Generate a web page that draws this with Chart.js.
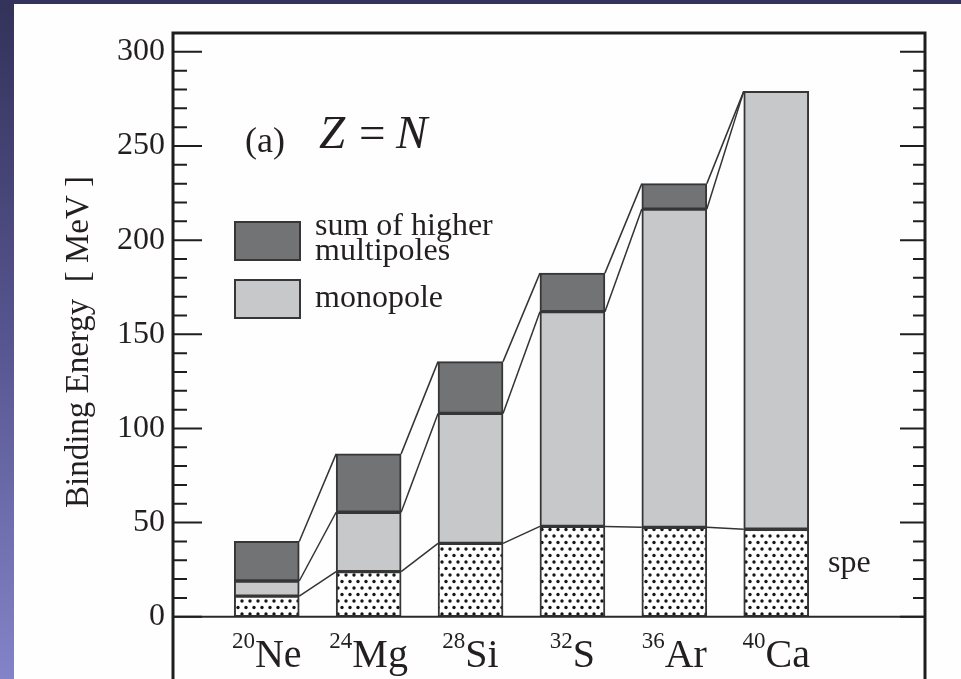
<!DOCTYPE html>
<html>
<head>
<meta charset="utf-8">
<script src="https://cdn.jsdelivr.net/npm/chart.js@4.4.1/dist/chart.umd.min.js"></script>
<style>
html, body { margin: 0; padding: 0; width: 961px; height: 679px; overflow: hidden; }
body { position: relative; background: linear-gradient(to bottom, #33325a 0%, #575590 50%, #8383c8 100%); }
#topband { position: absolute; left: 0; top: 0; width: 961px; height: 4px; background: #34335b; }
#panel { position: absolute; left: 14px; top: 4px; width: 947px; height: 675px; background: #fefefe; }
#wrap { position: absolute; left: 0; top: 0; width: 961px; height: 700px; }
</style>
</head>
<body>
<div id="topband"></div>
<div id="panel"></div>
<div id="wrap"><canvas id="c" width="961" height="700"></canvas></div>
<script>
// valeurs (MeV)
const nuclei = ['Ne', 'Mg', 'Si', 'S', 'Ar', 'Ca'];
const massNumbers = ['20', '24', '28', '32', '36', '40'];
const speEnergy = [11, 24, 39, 48, 47.5, 46.5];
const monopoleEnergy = [8, 31.5, 69, 114, 169, 232.5];
const higherEnergy = [21, 31, 27.5, 20.5, 13.5, 0];
const yTickValues = [0, 50, 100, 150, 200, 250, 300];
const legendLines = [['sum of higher', 'multipoles'], ['monopole']];

const serif = '"Liberation Serif", "Times New Roman", serif';
const ink = '#231f20';
const edge = '#363636';

const canvas = document.getElementById('c');
const ctx = canvas.getContext('2d');

// motif pointillé pour la partie spe
function dotPattern() {
    const tile = document.createElement('canvas');
    tile.width = 8;
    tile.height = 13;
    const g = tile.getContext('2d');
    g.fillStyle = '#ffffff';
    g.fillRect(0, 0, 8, 13);
    g.fillStyle = '#161616';
    [[2, 3], [6, 9.5]].forEach(([x, y]) => {
        g.beginPath();
        g.arc(x, y, 1.7, 0, Math.PI * 2);
        g.fill();
    });
    return ctx.createPattern(tile, 'repeat');
}

const toPoints = arr => arr.map((v, i) => ({ x: i, y: v }));

const barStyle = {
    borderColor: edge,
    borderWidth: 2,
    borderSkipped: false,
    barThickness: 65
};

const decor = {
    id: 'decor',
    afterDatasetsDraw(chart) {
        const { ctx, chartArea: a, scales: { y } } = chart;
        ctx.save();

        // lignes reliant les barres
        ctx.strokeStyle = '#333';
        ctx.lineWidth = 1.5;
        chart.data.datasets.forEach((ds, k) => {
            const bars = chart.getDatasetMeta(k).data;
            for (let i = 0; i < bars.length - 1; i++) {
                const p = bars[i], q = bars[i + 1];
                ctx.beginPath();
                ctx.moveTo(p.x + p.width / 2, p.y);
                ctx.lineTo(q.x - q.width / 2, q.y);
                ctx.stroke();
            }
        });

        // ligne du zéro
        const y0 = y.getPixelForValue(0);
        ctx.strokeStyle = '#2a2a2a';
        ctx.lineWidth = 2;
        ctx.beginPath();
        ctx.moveTo(a.left, y0);
        ctx.lineTo(a.right, y0);
        ctx.stroke();

        // cadre
        ctx.strokeStyle = '#1e1e1e';
        ctx.lineWidth = 3;
        ctx.beginPath();
        ctx.moveTo(a.left, chart.height);
        ctx.lineTo(a.left, a.top);
        ctx.lineTo(a.right, a.top);
        ctx.lineTo(a.right, chart.height);
        ctx.stroke();

        // graduations intérieures
        ctx.lineWidth = 2;
        const last = yTickValues[yTickValues.length - 1];
        for (let v = 0; v <= last; v += 10) {
            const py = y.getPixelForValue(v);
            const major = v % 50 === 0;
            ctx.beginPath();
            ctx.moveTo(a.left, py);
            ctx.lineTo(a.left + (major ? 29 : 14), py);
            ctx.moveTo(a.right, py);
            ctx.lineTo(a.right - (major ? 25 : 12), py);
            ctx.stroke();
        }
        ctx.restore();
    },
    afterDraw(chart) {
        const { ctx, chartArea: a, scales: { x } } = chart;
        ctx.save();
        ctx.fillStyle = ink;
        ctx.textBaseline = 'alphabetic';

        // étiquettes des noyaux
        nuclei.forEach((n, i) => {
            ctx.font = '23px ' + serif;
            const wSup = ctx.measureText(massNumbers[i]).width;
            ctx.font = '40px ' + serif;
            const wMain = ctx.measureText(n).width;
            const left = x.getPixelForValue(i) - (wSup + wMain) / 2;
            ctx.font = '23px ' + serif;
            ctx.textAlign = 'left';
            ctx.fillText(massNumbers[i], left, 648);
            ctx.font = '40px ' + serif;
            ctx.fillText(n, left + wSup, 667);
        });

        // titre de l'axe y
        ctx.save();
        ctx.translate(88, 342);
        ctx.rotate(-Math.PI / 2);
        ctx.font = '33px ' + serif;
        ctx.textAlign = 'center';
        ctx.fillText('Binding Energy  [ MeV ]', 0, 0);
        ctx.restore();

        // (a)  Z = N
        ctx.textAlign = 'left';
        ctx.font = '36px ' + serif;
        ctx.fillText('(a)', a.left + 72, 152);
        ctx.font = 'italic 47px ' + serif;
        ctx.fillText('Z', a.left + 146, 148);
        ctx.font = '47px ' + serif;
        ctx.fillText('=', a.left + 186, 148);
        ctx.font = 'italic 47px ' + serif;
        ctx.fillText('N', a.left + 223, 148);

        // légende
        const keys = [chart.data.datasets[2], chart.data.datasets[1]];
        const boxTop = [222, 280];
        const lineBase = [[235, 260], [307]];
        keys.forEach((ds, j) => {
            ctx.fillStyle = ds.backgroundColor;
            ctx.fillRect(a.left + 62, boxTop[j], 65, 38);
            ctx.strokeStyle = edge;
            ctx.lineWidth = 2;
            ctx.strokeRect(a.left + 62, boxTop[j], 65, 38);
            ctx.fillStyle = ink;
            ctx.font = '32px ' + serif;
            legendLines[j].forEach((t, m) => ctx.fillText(t, a.left + 142, lineBase[j][m]));
        });

        // spe
        ctx.font = '32px ' + serif;
        ctx.fillText(chart.data.datasets[0].label, a.left + 655, 572);
        ctx.restore();
    }
};

new Chart(canvas, {
    type: 'bar',
    data: {
        datasets: [
            { label: 'spe', data: toPoints(speEnergy), backgroundColor: dotPattern(), ...barStyle },
            { label: 'monopole', data: toPoints(monopoleEnergy), backgroundColor: '#c7c8ca', ...barStyle },
            { label: 'sum of higher multipoles', data: toPoints(higherEnergy), backgroundColor: '#727375', ...barStyle }
        ]
    },
    options: {
        responsive: false,
        animation: false,
        layout: { padding: { left: 0, right: 36, top: 33, bottom: 12 } },
        plugins: {
            legend: { display: false },
            tooltip: { enabled: false }
        },
        scales: {
            x: {
                type: 'linear',
                display: false,
                stacked: true,
                offset: false,
                min: -0.92,
                max: 6.46
            },
            y: {
                stacked: true,
                min: -34,
                max: 310,
                grid: { display: false },
                border: { display: false },
                afterBuildTicks: scale => {
                    scale.ticks = yTickValues.map(v => ({ value: v }));
                },
                afterFit: scale => {
                    scale.width = 173;
                },
                ticks: {
                    padding: 0,
                    color: ink,
                    font: { family: serif, size: 32 }
                }
            }
        }
    },
    plugins: [decor]
});
</script>
</body>
</html>
